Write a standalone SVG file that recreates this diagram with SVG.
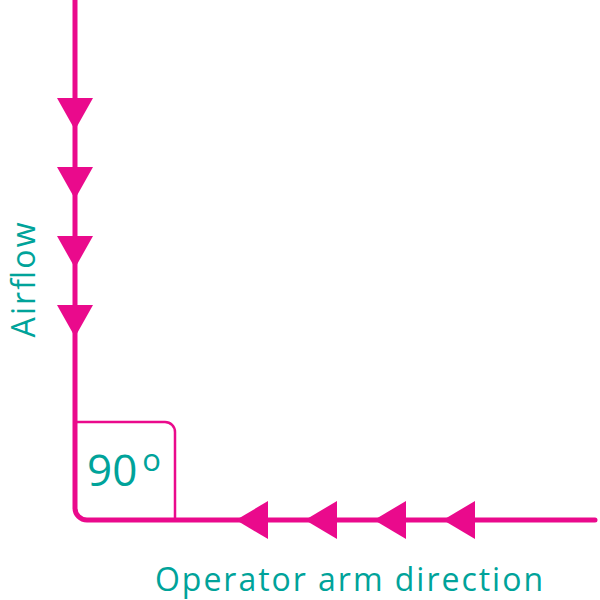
<svg xmlns="http://www.w3.org/2000/svg" width="600" height="600" viewBox="0 0 600 600">
<style>
.line{fill:none;stroke:#EA0A8C;stroke-width:5;stroke-linecap:round;stroke-linejoin:round}
.thin{fill:none;stroke:#EA0A8C;stroke-width:2.5}
.head{fill:#EA0A8C}
.lbl{fill:#00A39A;font-family:"Open Sans","Liberation Sans",sans-serif}
</style>
<rect width="600" height="600" fill="#ffffff"/>
<g id="connectors">
<path class="line" d="M75,0 V508 A12,12 0 0 0 87,520 H595"/>
<g id="airflow-arrows">
<polygon class="head" points="57,98 93,98 75,130"/>
<polygon class="head" points="57,167 93,167 75,199"/>
<polygon class="head" points="57,236 93,236 75,268"/>
<polygon class="head" points="57,305 93,305 75,337"/>
</g>
<g id="arm-arrows">
<polygon class="head" points="268,501 268,539 236,520"/>
<polygon class="head" points="337,501 337,539 305,520"/>
<polygon class="head" points="406,501 406,539 374,520"/>
<polygon class="head" points="475,501 475,539 443,520"/>
</g>
</g>
<g id="angle">
<path class="thin" d="M75,422 H165 A10,10 0 0 1 175,432 V520"/>
<text class="lbl" x="87" y="486" font-size="44">90<tspan font-size="31" dx="5" dy="-15">o</tspan></text>
</g>
<g id="airflow-label">
<text class="lbl" x="35" y="280" font-size="32" text-anchor="middle" textLength="115" lengthAdjust="spacing" transform="rotate(-90 35 280)">Airflow</text>
</g>
<g id="arm-label">
<text class="lbl" x="155" y="591" font-size="32" textLength="388" lengthAdjust="spacing">Operator arm direction</text>
</g>
</svg>
